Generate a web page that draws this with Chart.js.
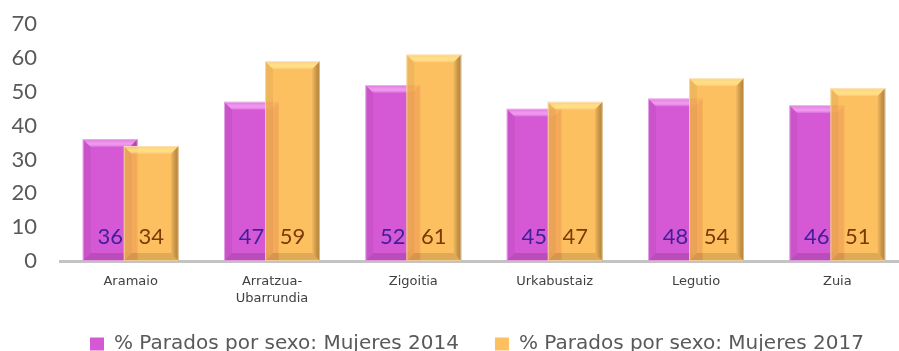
<!DOCTYPE html>
<html>
<head>
<meta charset="utf-8">
<script src="https://cdn.jsdelivr.net/npm/chart.js@4.4.1/dist/chart.umd.min.js"></script>
<style>
  html, body { margin: 0; padding: 0; background: #ffffff; overflow: hidden; }
  #wrap { width: 908px; height: 351px; position: relative; }
</style>
</head>
<body>
<div id="wrap"><canvas id="chart"></canvas></div>
<script>
// Municipios y porcentaje de mujeres entre las personas paradas
const municipios = ['Aramaio', ['Arratzua-', 'Ubarrundia'], 'Zigoitia', 'Urkabustaiz', 'Legutio', 'Zuia'];
const mujeres2014 = [36, 47, 52, 45, 48, 46];
const mujeres2017 = [34, 59, 61, 47, 54, 51];
const nombresSeries = ['% Parados por sexo: Mujeres 2014', '% Parados por sexo: Mujeres 2017'];
const ejeY = { min: 0, max: 70, paso: 10 };

const COLOR_2014 = 'rgb(213, 88, 213)';
const COLOR_2017 = 'rgba(253, 183, 75, 0.88)';
const TEXTO_2014 = '#3f1f9c';
const TEXTO_2017 = '#7a3b05';

const BASE_Y = 261;        // línea del cero
const MARGEN_INF = -20;    // la leyenda queda cortada por el borde inferior
const LEYENDA_X = 90;      // borde izquierdo del primer cuadro de la leyenda
const LEYENDA_Y = 344;     // línea media del texto de la leyenda

// Relieve biselado sobre cada barra ya posicionada por la escala
function biselar(ctx, bar, luz, sombra) {
  const p = bar.getProps(['x', 'y', 'base', 'width'], true);
  const l = p.x - p.width / 2, r = p.x + p.width / 2;
  const t = Math.min(p.y, p.base), b = Math.max(p.y, p.base);
  const k = 8;
  ctx.save();
  // cara superior
  let g = ctx.createLinearGradient(0, t, 0, t + k);
  g.addColorStop(0, 'rgba(255,255,255,0.10)');
  g.addColorStop(0.6, luz);
  g.addColorStop(1, 'rgba(255,255,255,0.05)');
  ctx.fillStyle = g;
  ctx.beginPath();
  ctx.moveTo(l, t); ctx.lineTo(r, t); ctx.lineTo(r - k, t + k); ctx.lineTo(l + k, t + k); ctx.closePath();
  ctx.fill();
  // lado derecho
  g = ctx.createLinearGradient(r - k, 0, r, 0);
  g.addColorStop(0, 'rgba(0,0,0,0.02)');
  g.addColorStop(1, sombra);
  ctx.fillStyle = g;
  ctx.beginPath();
  ctx.moveTo(r, t); ctx.lineTo(r, b); ctx.lineTo(r - k, b - k); ctx.lineTo(r - k, t + k); ctx.closePath();
  ctx.fill();
  // lado izquierdo
  ctx.fillStyle = 'rgba(0,0,0,0.05)';
  ctx.beginPath();
  ctx.moveTo(l, t); ctx.lineTo(l + k, t + k); ctx.lineTo(l + k, b - k); ctx.lineTo(l, b); ctx.closePath();
  ctx.fill();
  // cara inferior
  ctx.fillStyle = 'rgba(0,0,0,0.12)';
  ctx.beginPath();
  ctx.moveTo(l, b); ctx.lineTo(r, b); ctx.lineTo(r - k, b - k); ctx.lineTo(l + k, b - k); ctx.closePath();
  ctx.fill();
  // contorno claro
  ctx.strokeStyle = 'rgba(255,255,255,0.45)';
  ctx.lineWidth = 1;
  ctx.strokeRect(l + 0.5, t + 0.5, p.width - 1, b - t - 1);
  ctx.restore();
}

// La serie 2017 se dibuja encima de la 2014, con su relieve y las etiquetas de valor
const relievePlugin = {
  id: 'relieve',
  beforeDatasetDraw(chart, args) {
    if (args.index === 1) return false;
  },
  afterDatasetDraw(chart, args) {
    if (args.index === 0) {
      args.meta.data.forEach(b => biselar(chart.ctx, b, 'rgba(255,170,255,0.75)', 'rgba(70,0,70,0.30)'));
    }
  },
  afterDatasetsDraw(chart) {
    const ctx = chart.ctx;
    const meta = chart.getDatasetMeta(1);
    meta.controller.draw();
    meta.data.forEach(b => biselar(ctx, b, 'rgba(255,235,120,0.8)', 'rgba(90,50,0,0.45)'));
    // etiquetas de valor en la parte baja de cada barra
    ctx.save();
    ctx.font = '22px Lato, "Open Sans", sans-serif';
    ctx.textAlign = 'center';
    ctx.textBaseline = 'middle';
    [0, 1].forEach(i => {
      const m = chart.getDatasetMeta(i);
      const vals = chart.data.datasets[i].data;
      ctx.fillStyle = i === 0 ? TEXTO_2014 : TEXTO_2017;
      m.data.forEach((b, j) => {
        const p = b.getProps(['x', 'base'], true);
        ctx.fillText(String(vals[j]), p.x, p.base - 24);
      });
    });
    ctx.restore();
  },
  afterLayout(chart) {
    const lg = chart.legend;
    if (!lg) return;
    const P = lg.options.labels.padding;
    const dx = LEYENDA_X - (lg.left + P);
    lg.left += dx; lg.right += dx;
    const dy = (LEYENDA_Y - P - 10) - lg.top;
    lg.top += dy; lg.bottom += dy;
  }
};

new Chart(document.getElementById('chart'), {
  type: 'bar',
  data: {
    labels: municipios,
    datasets: [
      {
        label: nombresSeries[0],
        data: mujeres2014,
        backgroundColor: COLOR_2014,
        borderWidth: 0,
        categoryPercentage: 0.58,
        barPercentage: 1.34
      },
      {
        label: nombresSeries[1],
        data: mujeres2017,
        backgroundColor: COLOR_2017,
        borderWidth: 0,
        categoryPercentage: 0.58,
        barPercentage: 1.34
      }
    ]
  },
  options: {
    responsive: true,
    maintainAspectRatio: false,
    animation: false,
    layout: { padding: { top: 24, right: 0, bottom: MARGEN_INF, left: 0 } },
    plugins: {
      tooltip: { enabled: false },
      legend: {
        position: 'bottom',
        align: 'start',
        labels: {
          boxWidth: 14,
          boxHeight: 13,
          padding: 36,
          color: '#595959',
          font: { family: '"DejaVu Sans", sans-serif', size: 20 }
        }
      }
    },
    scales: {
      x: {
        grid: { display: false, drawTicks: false },
        border: { display: true, color: '#c3c3c3', width: 3 },
        ticks: {
          color: '#404040',
          padding: 12,
          maxRotation: 0,
          autoSkip: false,
          font: { family: '"DejaVu Sans", sans-serif', size: 13, lineHeight: 1.3 }
        },
        afterFit(s) {
          const lgH = s.chart.legend ? s.chart.legend.height : 0;
          s.height = Math.max(0, 351 - MARGEN_INF - BASE_Y - lgH);
          s.paddingLeft = 0; s.paddingRight = 0;
        }
      },
      y: {
        min: ejeY.min,
        max: ejeY.max,
        grid: { display: false, drawTicks: false },
        border: { display: false },
        ticks: {
          stepSize: ejeY.paso,
          color: '#595959',
          padding: 23,
          font: { family: 'Lato, "Open Sans", sans-serif', size: 22 }
        },
        afterFit(s) {
          s.width = 60;
          s.paddingTop = 0; s.paddingBottom = 0;
        }
      }
    }
  },
  plugins: [relievePlugin]
});
</script>
</body>
</html>
